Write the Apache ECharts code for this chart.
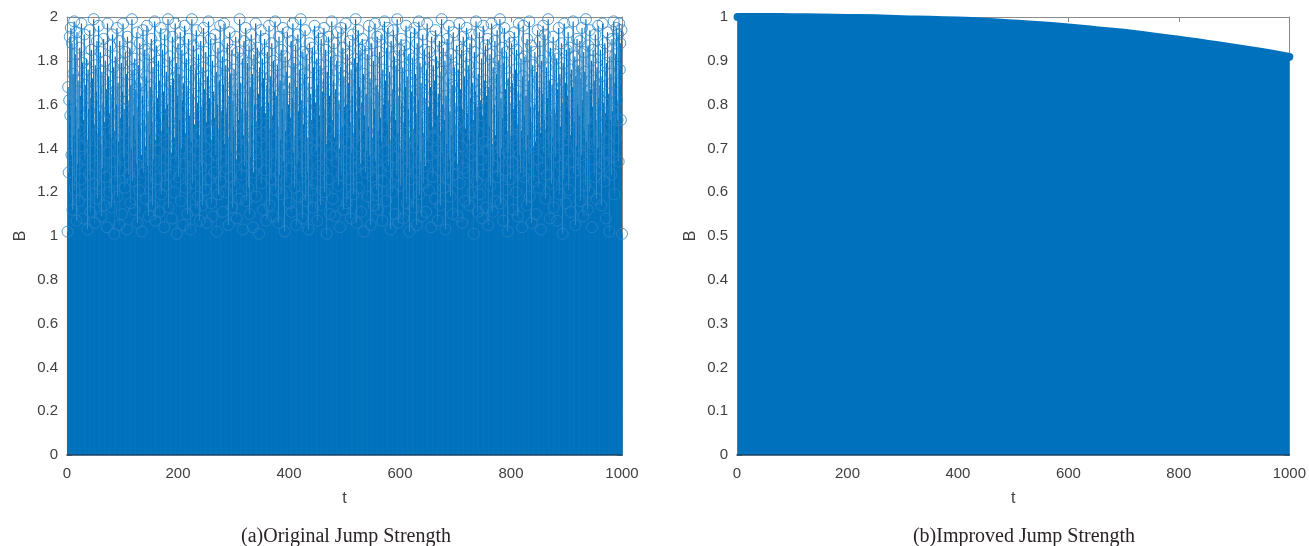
<!DOCTYPE html>
<html>
<head>
<meta charset="utf-8">
<script src="https://cdn.jsdelivr.net/npm/echarts@6/dist/echarts.min.js"></script>
<style>
  html, body { margin: 0; padding: 0; background: #fff; }
  #chart { width: 1309px; height: 546px; }
</style>
</head>
<body>
<div id="chart"></div>
<script>
// (a) original jump strength B for t = 1..1000
const jumpOriginal = [
1.02,1.68,1.29,1.62,1.91,1.55,1.95,1.37,1.88,1.12,1.74,1.46,1.98,1.21,1.83,1.59,1.07,1.93,1.33,1.71,
1.49,1.16,1.86,1.64,1.26,1.97,1.41,1.79,1.08,1.53,1.92,1.35,1.69,1.19,1.81,1.44,1.03,1.76,1.58,1.28,
1.94,1.11,1.63,1.85,1.39,1.72,1.24,1.99,1.51,1.06,1.78,1.32,1.66,1.89,1.17,1.47,1.96,1.23,1.57,1.84,
1.42,1.09,1.75,1.31,1.61,1.90,1.14,1.52,1.80,1.27,1.67,1.04,1.97,1.38,1.73,1.20,1.56,1.87,1.45,1.13,
1.65,1.92,1.34,1.77,1.01,1.48,1.82,1.25,1.60,1.95,1.18,1.70,1.43,1.05,1.89,1.54,1.30,1.79,1.10,1.66,
1.97,1.36,1.58,1.22,1.84,1.47,1.74,1.03,1.91,1.62,1.28,1.50,1.86,1.15,1.69,1.40,1.99,1.25,1.76,1.55,
1.12,1.81,1.44,1.67,1.33,1.93,1.06,1.59,1.78,1.21,1.88,1.49,1.70,1.37,1.02,1.64,1.94,1.29,1.53,1.85,
1.41,1.17,1.73,1.96,1.32,1.57,1.09,1.83,1.46,1.68,1.24,1.90,1.52,1.14,1.77,1.35,1.61,1.98,1.07,1.44,
1.87,1.26,1.63,1.39,1.80,1.11,1.71,1.54,1.95,1.19,1.48,1.85,1.31,1.66,1.04,1.92,1.58,1.23,1.75,1.42,
1.60,1.99,1.13,1.50,1.82,1.28,1.69,1.38,1.08,1.91,1.56,1.72,1.20,1.45,1.97,1.34,1.79,1.01,1.64,1.88,
1.27,1.74,1.53,1.93,1.16,1.40,1.85,1.62,1.05,1.70,1.33,1.96,1.47,1.22,1.81,1.58,1.10,1.68,1.90,1.36,
1.55,1.03,1.78,1.43,1.99,1.24,1.65,1.87,1.30,1.51,1.12,1.76,1.94,1.39,1.61,1.18,1.83,1.46,1.07,1.72,
1.89,1.32,1.59,1.14,1.77,1.95,1.41,1.67,1.21,1.84,1.52,1.06,1.73,1.35,1.98,1.26,1.63,1.48,1.90,1.15,
1.44,1.80,1.09,1.66,1.29,1.54,1.92,1.37,1.75,1.02,1.60,1.86,1.19,1.49,1.71,1.96,1.25,1.57,1.34,1.82,
1.11,1.69,1.97,1.42,1.20,1.78,1.56,1.31,1.88,1.64,1.05,1.45,1.93,1.27,1.74,1.38,1.85,1.13,1.62,1.50,
1.76,1.23,1.48,1.91,1.35,1.08,1.67,1.84,1.53,1.17,1.99,1.40,1.70,1.28,1.58,1.81,1.03,1.46,1.89,1.32,
1.63,1.95,1.16,1.57,1.79,1.43,1.22,1.87,1.10,1.68,1.36,1.92,1.51,1.74,1.04,1.29,1.83,1.60,1.39,1.97,
1.18,1.52,1.86,1.33,1.65,1.01,1.77,1.45,1.94,1.24,1.59,1.81,1.12,1.72,1.47,1.90,1.30,1.56,1.07,1.69,
1.84,1.37,1.61,1.96,1.14,1.49,1.73,1.26,1.88,1.55,1.09,1.80,1.42,1.66,1.98,1.21,1.64,1.35,1.78,1.50,
1.06,1.91,1.28,1.71,1.44,1.85,1.19,1.58,1.95,1.34,1.67,1.02,1.82,1.48,1.25,1.75,1.93,1.41,1.60,1.15,
1.70,1.31,1.54,1.89,1.11,1.63,1.97,1.38,1.79,1.22,1.46,1.87,1.05,1.68,1.33,1.92,1.57,1.18,1.76,1.43,
1.99,1.27,1.62,1.08,1.84,1.51,1.36,1.74,1.94,1.16,1.59,1.83,1.29,1.45,1.03,1.70,1.88,1.40,1.65,1.21,
1.53,1.86,1.13,1.77,1.47,1.96,1.24,1.61,1.39,1.81,1.07,1.69,1.93,1.32,1.55,1.78,1.14,1.90,1.44,1.66,
1.30,1.72,1.95,1.20,1.58,1.85,1.42,1.01,1.75,1.49,1.91,1.26,1.64,1.10,1.82,1.37,1.98,1.53,1.17,1.71,
1.88,1.45,1.09,1.67,1.34,1.80,1.56,1.93,1.23,1.62,1.40,1.04,1.77,1.95,1.28,1.50,1.86,1.12,1.73,1.59,
1.35,1.97,1.60,1.15,1.83,1.43,1.70,1.26,1.89,1.52,1.08,1.76,1.38,1.64,1.92,1.19,1.47,1.81,1.31,1.99,
1.57,1.06,1.79,1.41,1.94,1.22,1.68,1.85,1.33,1.11,1.61,1.90,1.46,1.74,1.02,1.55,1.87,1.29,1.65,1.39,
1.83,1.18,1.50,1.96,1.37,1.72,1.05,1.63,1.88,1.27,1.45,1.80,1.14,1.58,1.97,1.34,1.69,1.21,1.91,1.48,
1.12,1.66,1.84,1.30,1.54,1.92,1.43,1.07,1.76,1.60,1.25,1.98,1.39,1.71,1.16,1.86,1.51,1.95,1.32,1.62,
1.75,1.44,1.03,1.89,1.57,1.20,1.67,1.94,1.36,1.82,1.10,1.53,1.78,1.28,1.99,1.47,1.06,1.64,1.85,1.40,
1.23,1.90,1.61,1.35,1.77,1.08,1.52,1.87,1.42,1.68,1.96,1.15,1.73,1.31,1.58,1.83,1.02,1.45,1.93,1.26,
1.66,1.38,1.81,1.13,1.49,1.95,1.29,1.74,1.56,1.05,1.88,1.41,1.62,1.98,1.19,1.79,1.34,1.70,1.09,1.54,
1.92,1.24,1.47,1.85,1.63,1.32,1.11,1.76,1.97,1.43,1.59,1.21,1.84,1.37,1.68,1.04,1.91,1.50,1.27,1.78,
1.45,1.71,1.17,1.94,1.39,1.82,1.55,1.07,1.65,1.30,1.89,1.48,1.14,1.75,1.99,1.36,1.60,1.86,1.22,1.53,
1.80,1.03,1.64,1.42,1.90,1.26,1.72,1.96,1.35,1.57,1.18,1.83,1.46,1.69,1.10,1.93,1.28,1.77,1.51,1.38,
1.61,1.87,1.33,1.09,1.76,1.52,1.97,1.24,1.67,1.41,1.85,1.06,1.58,1.91,1.31,1.73,1.16,1.49,1.82,1.95,
1.29,1.56,1.78,1.44,1.14,1.88,1.63,1.37,1.92,1.20,1.70,1.53,1.01,1.84,1.40,1.66,1.98,1.25,1.59,1.11,
1.74,1.47,1.93,1.19,1.62,1.35,1.81,1.08,1.55,1.96,1.28,1.71,1.43,1.87,1.13,1.64,1.39,1.90,1.05,1.68,
1.50,1.83,1.23,1.69,1.97,1.42,1.11,1.77,1.32,1.60,1.89,1.46,1.16,1.74,1.94,1.27,1.57,1.80,1.36,1.99,
1.15,1.63,1.40,1.86,1.54,1.07,1.79,1.95,1.30,1.67,1.21,1.84,1.48,1.02,1.72,1.38,1.91,1.61,1.26,1.45,
1.88,1.34,1.70,1.12,1.58,1.93,1.44,1.76,1.20,1.85,1.51,1.09,1.66,1.97,1.37,1.62,1.29,1.81,1.48,1.04,
1.73,1.96,1.27,1.55,1.82,1.39,1.64,1.14,1.90,1.46,1.71,1.33,1.98,1.18,1.59,1.87,1.06,1.52,1.78,1.41,
1.25,1.60,1.84,1.43,1.10,1.75,1.35,1.94,1.57,1.22,1.68,1.89,1.47,1.03,1.80,1.31,1.65,1.96,1.38,1.53,
1.92,1.17,1.49,1.77,1.28,1.63,1.99,1.40,1.71,1.08,1.86,1.54,1.24,1.69,1.45,1.91,1.13,1.58,1.83,1.36,
1.56,1.81,1.07,1.67,1.42,1.95,1.19,1.74,1.50,1.32,1.88,1.61,1.01,1.79,1.26,1.97,1.44,1.70,1.15,1.85,
1.39,1.64,1.93,1.21,1.57,1.86,1.46,1.11,1.76,1.34,1.68,1.98,1.29,1.52,1.82,1.05,1.73,1.41,1.90,1.60,
1.78,1.30,1.55,1.89,1.16,1.72,1.37,1.95,1.62,1.09,1.84,1.48,1.75,1.23,1.99,1.43,1.66,1.12,1.87,1.51,
1.20,1.94,1.67,1.35,1.80,1.04,1.59,1.85,1.42,1.71,1.27,1.92,1.53,1.17,1.77,1.40,1.96,1.63,1.31,1.69,
1.85,1.47,1.14,1.73,1.97,1.33,1.61,1.25,1.88,1.56,1.08,1.79,1.44,1.93,1.38,1.65,1.02,1.82,1.53,1.74,
1.28,1.90,1.57,1.36,1.98,1.19,1.70,1.83,1.45,1.95,1.62,1.53,1.92,1.34,1.97,1.76,1.88,1.53,1.94,1.01
];

// (b) improved jump strength, sampled along t
const tImproved = [1, 50, 100, 150, 200, 250, 300, 350, 400, 450, 500, 550, 600, 650, 700, 750, 800, 850, 900, 950, 1000];
const jumpImproved = [1.000, 1.000, 0.9995, 0.999, 0.998, 0.997, 0.995, 0.994, 0.992, 0.989, 0.985, 0.981, 0.976, 0.970, 0.964, 0.956, 0.948, 0.939, 0.930, 0.920, 0.909];

const xTicks = [0, 200, 400, 600, 800, 1000];
const captions = ['(a)Original Jump Strength', '(b)Improved Jump Strength'];

const BLUE = '#0072BD';
const AXIS_GRAY = '#8a8a8a';
const LABEL = '#404040';
const SANS = 'Liberation Sans, Arial, sans-serif';

const stemData = jumpOriginal.map((v, i) => [i + 1, v]);
const improvedData = tImproved.map((t, i) => [t, jumpImproved[i]]);

const plainNumber = v => String(+v.toFixed(4));

function bottomAxis(gridIndex) {
  return {
    type: 'value', gridIndex, position: 'bottom',
    min: xTicks[0], max: xTicks[xTicks.length - 1], interval: 200,
    name: 't', nameLocation: 'middle', nameGap: 36,
    nameTextStyle: { color: LABEL, fontSize: 16, fontFamily: SANS },
    axisLine: { show: true, onZero: false, lineStyle: { color: '#1f4466', width: 1.5 } },
    axisTick: { show: false },
    axisLabel: { color: LABEL, fontSize: 15, fontFamily: SANS, margin: 11, formatter: plainNumber },
    splitLine: { show: false },
    z: 5
  };
}
function topAxis(gridIndex) {
  return {
    type: 'value', gridIndex, position: 'top',
    min: 0, max: 1000, interval: 200,
    axisLine: { show: true, onZero: false, lineStyle: { color: AXIS_GRAY, width: 1 } },
    axisTick: { show: true, inside: true, length: 5, lineStyle: { color: AXIS_GRAY } },
    axisLabel: { show: false },
    splitLine: { show: false }
  };
}
function leftAxis(gridIndex, max, interval) {
  return {
    type: 'value', gridIndex, position: 'left',
    min: 0, max, interval,
    name: 'B', nameLocation: 'middle', nameGap: 38, nameRotate: 90,
    nameTextStyle: { color: LABEL, fontSize: 16, fontFamily: SANS },
    axisLine: { show: true, onZero: false, lineStyle: { color: AXIS_GRAY, width: 1 } },
    axisTick: { show: true, inside: true, length: 5, lineStyle: { color: AXIS_GRAY } },
    axisLabel: { color: LABEL, fontSize: 15, fontFamily: SANS, margin: 9, formatter: plainNumber },
    splitLine: { show: false }
  };
}
function rightAxis(gridIndex, max, interval) {
  return {
    type: 'value', gridIndex, position: 'right',
    min: 0, max, interval,
    axisLine: { show: true, onZero: false, lineStyle: { color: AXIS_GRAY, width: 1 } },
    axisTick: { show: true, inside: true, length: 5, lineStyle: { color: AXIS_GRAY } },
    axisLabel: { show: false },
    splitLine: { show: false }
  };
}

const chart = echarts.init(document.getElementById('chart'), null, { renderer: 'canvas' });
chart.setOption({
  animation: false,
  backgroundColor: '#ffffff',
  grid: [
    { left: 67, top: 17, width: 555, height: 438 },
    { left: 737, top: 17, width: 554, height: 438 }
  ],
  xAxis: [bottomAxis(0), topAxis(0), bottomAxis(1), topAxis(1)],
  yAxis: [leftAxis(0, 2, 0.2), rightAxis(0, 2, 0.2), leftAxis(1, 1, 0.1), rightAxis(1, 1, 0.1)],
  series: [
    {
      // stems of panel (a)
      type: 'custom', xAxisIndex: 0, yAxisIndex: 0,
      data: stemData,
      encode: { x: 0, y: 1 },
      renderItem(params, api) {
        const t = api.value(0), v = api.value(1);
        const p0 = api.coord([t, 0]);
        const p1 = api.coord([t, v]);
        return {
          type: 'line',
          shape: { x1: p0[0], y1: p0[1], x2: p1[0], y2: p1[1] },
          style: { stroke: BLUE, lineWidth: 1.2 }
        };
      },
      z: 2
    },
    {
      // open circle markers of panel (a)
      type: 'scatter', xAxisIndex: 0, yAxisIndex: 0,
      data: stemData,
      symbol: 'circle', symbolSize: 11,
      itemStyle: { color: 'rgba(0,0,0,0)', borderColor: '#2a84c9', borderWidth: 1 },
      clip: false, silent: true,
      z: 3
    },
    {
      // panel (b): dense stems with filled markers form a solid band
      type: 'line', xAxisIndex: 2, yAxisIndex: 2,
      data: improvedData,
      smooth: true,
      symbol: 'circle', symbolSize: 8, showSymbol: false,
      lineStyle: { color: BLUE, width: 8, cap: 'round' },
      areaStyle: { color: BLUE, opacity: 1, origin: 'start' },
      itemStyle: { color: BLUE },
      clip: false, silent: true,
      z: 2
    }
  ],
  graphic: [
    {
      type: 'text',
      style: { text: captions[0], fill: '#2a2323', font: '20px "Liberation Serif", "Times New Roman", serif', textAlign: 'center', textVerticalAlign: 'middle' },
      position: [346, 537]
    },
    {
      type: 'text',
      style: { text: captions[1], fill: '#2a2323', font: '20px "Liberation Serif", "Times New Roman", serif', textAlign: 'center', textVerticalAlign: 'middle' },
      position: [1024, 537]
    }
  ]
});
</script>
</body>
</html>
